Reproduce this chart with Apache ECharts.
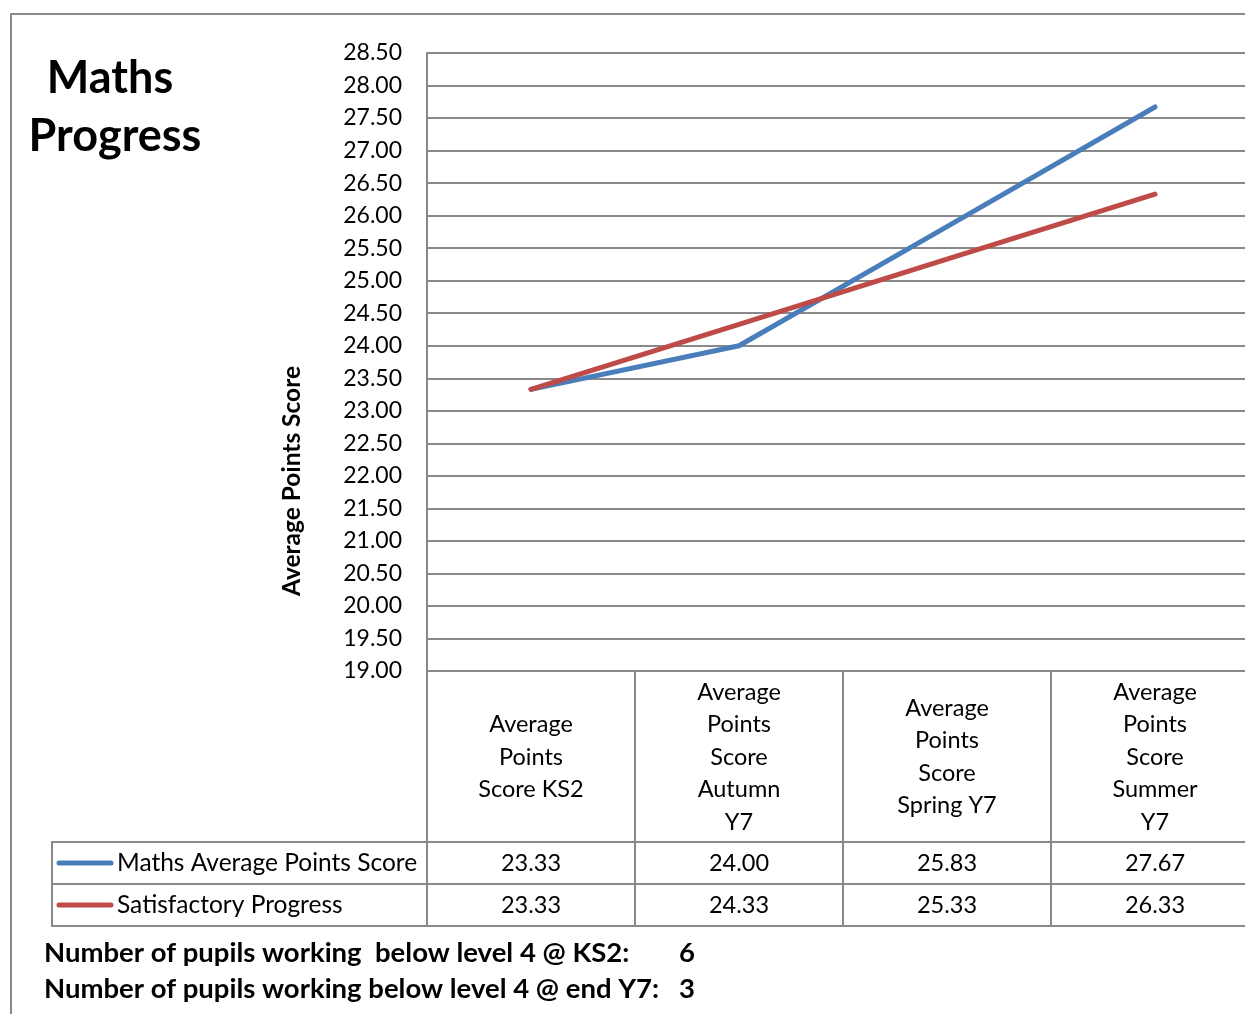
<!DOCTYPE html>
<html><head><meta charset="utf-8">
<style>html,body{margin:0;padding:0;background:#fff;}#c{width:1245px;height:1014px;}</style>
<script src="https://cdn.jsdelivr.net/npm/echarts@6/dist/echarts.min.js"></script>
</head><body><div id="c"></div>
<script>
var categories = ["Average\nPoints\nScore KS2", "Average\nPoints\nScore\nAutumn\nY7", "Average\nPoints\nScore\nSpring Y7", "Average\nPoints\nScore\nSummer\nY7"];
var seriesNames = ["Maths Average Points Score", "Satisfactory Progress"];
var mathsScores = [23.33, 24.00, 25.83, 27.67];
var satisfactory = [23.33, 24.33, 25.33, 26.33];
var titleLines = ["Maths", "Progress"];
var yAxisTitle = "Average Points Score";
var footerLines = [["Number of pupils working  below level 4 @ KS2:", "6"], ["Number of pupils working below level 4 @ end Y7:", "3"]];

var FONT = "Lato, 'Open Sans', sans-serif";
var GRID = "#898989";
var colors = ["#4A7EBB", "#BE4B48"];

var chart = echarts.init(document.getElementById('c'));
var gridTop = 53, gridBottomY = 671, gridLeft = 427, gridRightX = 1259;
chart.setOption({
  animation: false,
  color: colors,
  grid: {left: gridLeft, top: gridTop, width: gridRightX - gridLeft, height: gridBottomY - gridTop,
    containLabel: false, outerBoundsMode: 'none'},
  xAxis: {
    type: 'category', data: categories, boundaryGap: true,
    axisLine: {show: true, lineStyle: {color: GRID, width: 2}},
    axisTick: {show: false},
    axisLabel: {interval: 0, margin: 86, verticalAlign: 'middle', align: 'center', lineHeight: 32.5,
      fontFamily: FONT, fontSize: 23.5, color: '#000'}
  },
  yAxis: {
    type: 'value', min: 19, max: 28.5, interval: 0.5,
    axisLine: {show: true, lineStyle: {color: GRID, width: 2}},
    axisTick: {show: false},
    splitLine: {show: true, lineStyle: {color: GRID, width: 2}},
    axisLabel: {margin: 25, fontFamily: FONT, fontSize: 23, color: '#000',
      formatter: function (v) { return v.toFixed(2); }}
  },
  series: [
    {name: seriesNames[0], type: 'line', data: mathsScores, symbol: 'none', lineStyle: {width: 5, cap: 'round', join: 'round'}},
    {name: seriesNames[1], type: 'line', data: satisfactory, symbol: 'none', lineStyle: {width: 5, cap: 'round', join: 'round'}}
  ]
});

// Data table and text, positioned from the axis scale
var els = [];
var line = function (x1, y1, x2, y2, c, w) {
  els.push({type: 'line', shape: {x1: x1, y1: y1, x2: x2, y2: y2}, style: {stroke: c || GRID, lineWidth: w || 2, lineCap: 'round'}, silent: true});
};
var catW = chart.convertToPixel({xAxisIndex: 0}, 1) - chart.convertToPixel({xAxisIndex: 0}, 0);
var rowTops = [842, 884, 926];
var tableLeft = 52;
// outer frame
line(11, 14, 1245, 14, '#8a8a8a', 2);
line(11, 14, 11, 1014, '#8a8a8a', 2);
// row lines
rowTops.forEach(function (y) { line(tableLeft, y, 1245, y); });
line(tableLeft, rowTops[0], tableLeft, rowTops[2]);
// column separators
for (var i = 0; i <= categories.length; i++) {
  var cx = chart.convertToPixel({xAxisIndex: 0}, 0) - catW / 2 + i * catW;
  line(cx, gridBottomY, cx, rowTops[2]);
}
var rows = [mathsScores, satisfactory];
rows.forEach(function (vals, r) {
  var yMid = (rowTops[r] + rowTops[r + 1]) / 2;
  line(59, yMid, 111, yMid, colors[r], 5);
  els.push({type: 'text', x: 117, y: yMid, style: {text: seriesNames[r], font: '24.5px ' + FONT, fill: '#000', textVerticalAlign: 'middle', textAlign: 'left'}, silent: true});
  vals.forEach(function (v, j) {
    var px = chart.convertToPixel({xAxisIndex: 0}, j);
    els.push({type: 'text', x: px, y: yMid, style: {text: v.toFixed(2), font: '23.5px ' + FONT, fill: '#000', textVerticalAlign: 'middle', textAlign: 'center'}, silent: true});
  });
});
// title
els.push({type: 'text', x: 110, y: 78, style: {text: titleLines[0], font: 'bold 45px ' + FONT, fill: '#000', textAlign: 'center', textVerticalAlign: 'middle'}, silent: true});
els.push({type: 'text', x: 115, y: 136, style: {text: titleLines[1], font: 'bold 45px ' + FONT, fill: '#000', textAlign: 'center', textVerticalAlign: 'middle'}, silent: true});
// y axis title
els.push({type: 'text', x: 292, y: 481, rotation: Math.PI / 2, style: {text: yAxisTitle, font: 'bold 24.5px ' + FONT, fill: '#000', textAlign: 'center', textVerticalAlign: 'middle'}, silent: true});
// footer
footerLines.forEach(function (f, k) {
  var y = 953 + k * 36;
  els.push({type: 'text', x: 44, y: y, style: {text: f[0], font: 'bold 27.5px ' + FONT, fill: '#000', textVerticalAlign: 'middle'}, silent: true});
  els.push({type: 'text', x: 687, y: y, style: {text: f[1], font: 'bold 27.5px ' + FONT, fill: '#000', textVerticalAlign: 'middle', textAlign: 'center'}, silent: true});
});
chart.setOption({graphic: {elements: els}});
</script></body></html>
